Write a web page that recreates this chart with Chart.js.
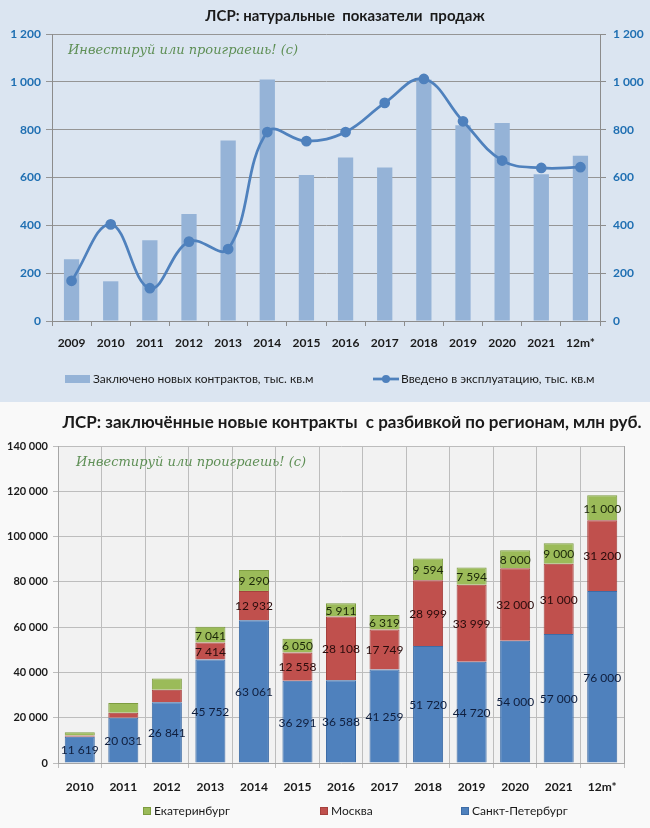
<!DOCTYPE html>
<html><head><meta charset="utf-8">
<script src="https://cdn.jsdelivr.net/npm/chart.js@4.4.1/dist/chart.umd.min.js"></script>
<style>
html,body{margin:0;padding:0;background:#ffffff;}
#w1{position:absolute;left:0;top:0;width:650px;height:402px;background:#dbe5f1;}
#w2{position:absolute;left:0;top:402px;width:650px;height:426px;background:#f9f9f9;}
canvas{display:block;}
</style></head>
<body>
<div id="w1"><canvas id="c1" width="650" height="402"></canvas></div>
<div id="w2"><canvas id="c2" width="650" height="426"></canvas></div>
<script>
// ---------- data: chart 1 ----------
const years1 = ['2009','2010','2011','2012','2013','2014','2015','2016','2017','2018','2019','2020','2021','12m*'];
const contracts = [258,166,338,447,755,1010,610,684,642,1010,818,828,614,691];
const commissioned = [168,404,137,332,301,790,752,790,912,1012,835,671,640,643];
// ---------- data: chart 2 ----------
const years2 = ['2010','2011','2012','2013','2014','2015','2016','2017','2018','2019','2020','2021','12m*'];
const spb = [11619,20031,26841,45752,63061,36291,36588,41259,51720,44720,54000,57000,76000];
const moscow = [500,2200,5471,7414,12932,12558,28108,17749,28999,33999,32000,31000,31200];
const ekb = [1500,4300,5049,7041,9290,6050,5911,6319,9594,7594,8000,9000,11000];

const title1 = 'ЛСР: натуральные  показатели  продаж';
const title2 = 'ЛСР: заключённые новые контракты  с разбивкой по регионам, млн руб.';

const FONT = "Lato,'Open Sans',sans-serif";
const fmt = v => String(v).replace(/\B(?=(\d{3})+(?!\d))/g, ' ');
const WM = 'Инвестируй или проиграешь! (с)';

function watermark(dx, dy){
  return {
    id:'wm',
    afterDraw(chart){
      const c = chart.ctx, a = chart.chartArea;
      c.save();
      c.font = "italic 13px 'DejaVu Serif',serif";
      c.fillStyle = '#5e8f55';
      c.textBaseline = 'middle';
      c.fillText(WM, a.left + dx, a.top + dy);
      c.restore();
    }
  };
}
function titlePlugin(text, x, y, size){
  return {
    id:'ttl',
    afterDraw(chart){
      const c = chart.ctx;
      c.save();
      c.font = "bold " + size + "px " + FONT;
      c.fillStyle = '#1a1a1a'; c.textAlign = 'center'; c.textBaseline = 'middle';
      c.fillText(text, x, y);
      c.restore();
    }
  };
}

Chart.defaults.font.family = FONT;

// custom legend for chart 1
const legend1 = {
  id:'legend1',
  afterDraw(chart){
    const c = chart.ctx, ds = chart.data.datasets, y = 379;
    c.save();
    c.font = "12px " + FONT; c.textBaseline = 'middle';
    c.fillStyle = ds[0].backgroundColor; c.fillRect(65, y-4, 25, 8);
    c.fillStyle = '#1a1a1a'; c.fillText(ds[0].label, 93, y, 230);
    c.strokeStyle = ds[1].borderColor; c.lineWidth = 2.75;
    c.beginPath(); c.moveTo(373, y); c.lineTo(399, y); c.stroke();
    c.fillStyle = ds[1].borderColor; c.beginPath(); c.arc(386, y, 4, 0, Math.PI*2); c.fill();
    c.fillStyle = '#1a1a1a'; c.fillText(ds[1].label, 401, y, 204);
    c.restore();
  }
};

new Chart(document.getElementById('c1'), {
  data: {
    labels: years1,
    datasets: [
      { type:'bar', label:'Заключено новых контрактов, тыс. кв.м', data: contracts,
        backgroundColor:'#95b3d7', barPercentage:0.39, categoryPercentage:1, yAxisID:'y', order:2 },
      { type:'line', label:'Введено в эксплуатацию, тыс. кв.м', data: commissioned,
        borderColor:'#4f81bd', backgroundColor:'#4f81bd', borderWidth:2.75, tension:0.4,
        pointRadius:4, pointHoverRadius:4, yAxisID:'y2', order:1 }
    ]
  },
  options: {
    responsive:false, animation:false,
    layout:{ padding:{ left:0, right:0, top:34, bottom:51 } },
    plugins:{ tooltip:{enabled:false}, legend:{ display:false }, title:{ display:false } },
    scales:{
      x:{ afterFit(s){ s.height = 30; },
          grid:{ offset:true, drawOnChartArea:false, tickLength:5, color:'#8c8c8c' },
          border:{ color:'#8c8c8c' },
          ticks:{ color:'#1a1a1a', font:{ size:12, weight:'bold', family:FONT }, padding:10, maxRotation:0 } },
      y:{ position:'left', min:0, max:1200,
          afterFit(s){ s.width = 52; },
          grid:{ color:'#959595', tickLength:6, drawTicks:true },
          border:{ color:'#8c8c8c' },
          ticks:{ stepSize:200, color:'#1f6fb2', font:{ size:12, weight:'bold', family:FONT }, padding:5, callback: v => fmt(v) } },
      y2:{ position:'right', min:0, max:1200,
          afterFit(s){ s.width = 50; },
          grid:{ drawOnChartArea:false, tickLength:6, color:'#8c8c8c' },
          border:{ color:'#8c8c8c' },
          ticks:{ stepSize:200, color:'#1f6fb2', font:{ size:12, weight:'bold', family:FONT }, padding:7, callback: v => fmt(v) } }
    }
  },
  plugins:[ watermark(16, 17), legend1, titlePlugin(title1, 345, 16, 15) ]
});

// ---------- chart 2 ----------
const plotBg = {
  id:'plotBg',
  beforeDraw(chart){
    const c = chart.ctx, a = chart.chartArea;
    c.save(); c.fillStyle = '#f2f2f2'; c.fillRect(a.left, a.top, a.right-a.left, a.bottom-a.top); c.restore();
  }
};
const segLabels = {
  id:'segLabels',
  afterDatasetsDraw(chart){
    const c = chart.ctx;
    c.save();
    c.font = "12px " + FONT;
    c.textAlign = 'center'; c.textBaseline = 'middle';
    chart.data.datasets.forEach((ds, di) => {
      const meta = chart.getDatasetMeta(di);
      c.fillStyle = ds.labelColor;
      meta.data.forEach((el, i) => {
        const h = Math.abs(el.base - el.y);
        if (h < 13) return;
        c.fillText(fmt(ds.data[i]), el.x, (el.y + el.base)/2 + 1);
      });
    });
    c.restore();
  }
};
const legend2 = {
  id:'legend2',
  afterDraw(chart){
    const c = chart.ctx, ds = chart.data.datasets, y = 409;
    const xs = [461, 320, 143]; // swatch x for SPb, Moscow, Ekb
    c.save();
    c.font = "12px " + FONT; c.textBaseline = 'middle';
    ds.forEach((d, i) => {
      c.fillStyle = d.backgroundColor; c.fillRect(xs[i], y-4, 8, 8);
      c.strokeStyle = d.borderColor; c.lineWidth = 1; c.strokeRect(xs[i]+0.5, y-3.5, 7, 7);
      c.fillStyle = '#1a1a1a'; c.fillText(d.label, xs[i] + 11, y);
    });
    c.restore();
  }
};

new Chart(document.getElementById('c2'), {
  type:'bar',
  data:{
    labels: years2,
    datasets:[
      { label:'Санкт-Петербург', data: spb, backgroundColor:'#4f81bd', borderColor:'#3d6ca6', borderWidth:1, labelColor:'#0f1e3d' },
      { label:'Москва', data: moscow, backgroundColor:'#c0504d', borderColor:'#a5403d', borderWidth:1, labelColor:'#2a0c0c' },
      { label:'Екатеринбург', data: ekb, backgroundColor:'#9bbb59', borderColor:'#7d9c40', borderWidth:1, labelColor:'#1b2608' }
    ]
  },
  options:{
    responsive:false, animation:false,
    layout:{ padding:{ left:0, right:26, top:44, bottom:35 } },
    datasets:{ bar:{ barPercentage:0.69, categoryPercentage:1 } },
    plugins:{ tooltip:{enabled:false}, legend:{ display:false }, title:{ display:false } },
    scales:{
      x:{ stacked:true, afterFit(s){ s.height = 30; },
          grid:{ offset:true, color:'#bdbdbd', tickLength:5 },
          border:{ color:'#a6a6a6' },
          ticks:{ color:'#1a1a1a', font:{ size:12, weight:'bold', family:FONT }, padding:12, maxRotation:0 } },
      y:{ stacked:true, min:0, max:140000,
          afterFit(s){ s.width = 58; },
          grid:{ color:'#bdbdbd', tickLength:5 },
          border:{ color:'#a6a6a6' },
          ticks:{ stepSize:20000, color:'#1a1a1a', font:{ size:11, weight:'bold', family:FONT }, padding:5, callback: v => fmt(v) } },
      yR:{ position:'right', display:true, min:0, max:140000,
          afterFit(s){ s.width = 0; },
          grid:{ drawOnChartArea:false, drawTicks:false },
          border:{ color:'#a6a6a6' }, ticks:{ display:false } }
    }
  },
  plugins:[ plotBg, segLabels, watermark(18, 17), legend2, titlePlugin(title2, 352, 21, 17) ]
});
</script>
</body></html>
